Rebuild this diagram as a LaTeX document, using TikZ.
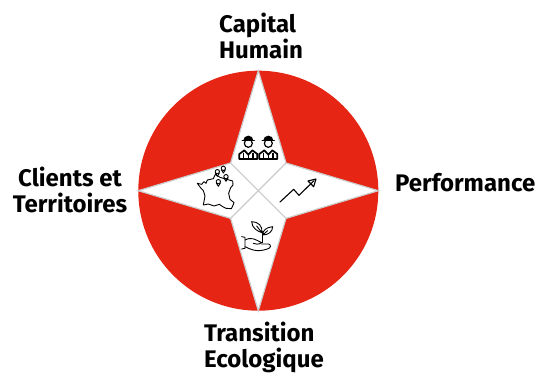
\documentclass[tikz,border=0pt]{standalone}
\usepackage{fontspec}
\setmainfont{Fira Sans}
\definecolor{redfill}{HTML}{E62514}
\definecolor{greyline}{HTML}{CCCCCC}
\tikzset{
  label/.style={font=\fontsize{24}{26}\selectfont\bfseries, inner sep=0pt},
  icon/.style={black, line width=0.9pt, line join=round, line cap=round},
}
\begin{document}
\begin{tikzpicture}[x=1pt,y=-1pt]
\useasboundingbox (0,0) rectangle (536,374);
\fill[redfill] (258.3,190.7) circle (120pt);
\draw[greyline, fill=white, line width=1.2pt] (258.3,70.7) -- (286,163) -- (378.3,190.7) -- (286,218.4) -- (258.3,310.7) -- (230.6,218.4) -- (138.3,190.7) -- (230.6,163) -- cycle;
\draw[greyline, line width=1.2pt] (230.6,163) -- (286,218.4);
\draw[greyline, line width=1.2pt] (286,163) -- (230.6,218.4);
\node[label, align=left, anchor=base west] (capital) at (219,59) {Capital\\Humain};
\node[label, anchor=base west] (performance) at (395,192) {Performance};
\node[label, align=center, anchor=base] (clients) at (70,213) {Clients et\\Territoires};
\node[label, align=left, anchor=base west] (transition) at (204,367.5) {Transition\\Ecologique};
\begin{scope}[shift={(190,120)},scale=1/3]
% workers
\foreach \cx in {175,235} {
  \draw[icon, line width=1.2pt] (\cx,70) circle (12);
  \fill[black] (\cx-15,61) arc (180:360:15 and 14) -- cycle;
  \draw[icon, line width=1.4pt] (\cx-18,61) -- (\cx+18,61);
  \draw[icon, line width=1.7pt] (\cx-27,117) -- (\cx-27,102) -- (\cx-12,91) -- (\cx,104) -- (\cx+12,91) -- (\cx+27,102) -- (\cx+27,117) -- cycle;
  \draw[icon, line width=1.2pt] (\cx-14,117) -- (\cx-14,100);
  \draw[icon, line width=1.2pt] (\cx+14,117) -- (\cx+14,100);
  \draw[icon, line width=1.2pt] (\cx,104) -- (\cx,117);
}
% France
\draw[icon] (22,190) -- (35,193) -- (42,185) -- (48,190) -- (52,180) -- (70,176) -- (76,163) -- (90,172) -- (110,178) -- (128,183) -- (129,195) -- (122,203) -- (116,220) -- (120,238) -- (132,248) -- (128,258) -- (124,266) -- (108,265) -- (98,260) -- (88,253) -- (72,258) -- (55,252) -- (40,255) -- (45,228) -- (40,212) -- (33,205) -- cycle;
% pins
\foreach \px/\py in {82/155,100/145,108/170,85/185} {
  \draw[icon, fill=white] (\px,\py) circle (6.5);
  \draw[icon] (\px-6,\py+4) -- (\px,\py+14) -- (\px+6,\py+4);
}
% hand and plant
\draw[icon] (155,350) -- (165,352) -- (165,385) -- (155,387);
\draw[icon] (165,360) .. controls (185,350) and (195,358) .. (215,368) .. controls (205,375) and (195,372) .. (190,370);
\draw[icon] (215,372) -- (236,372) .. controls (245,375) and (242,385) .. (232,387) .. controls (215,392) and (200,398) .. (165,380);
\draw[icon] (216,368) -- (216,335);
\draw[icon] (216,338) .. controls (205,335) and (185,325) .. (185,305) .. controls (205,305) and (218,318) .. (216,338) -- (200,318);
\draw[icon] (218,345) .. controls (218,330) and (230,322) .. (248,320) .. controls (248,335) and (235,345) .. (218,345) -- (233,332);
% arrow
\draw[icon, line width=1.1pt] (270,246) -- (311,208) -- (327,226) -- (372,182);
\draw[icon, line width=1.1pt] (354,183) -- (378,177) -- (371,200) -- cycle;
\end{scope}
\end{tikzpicture}
\end{document}
